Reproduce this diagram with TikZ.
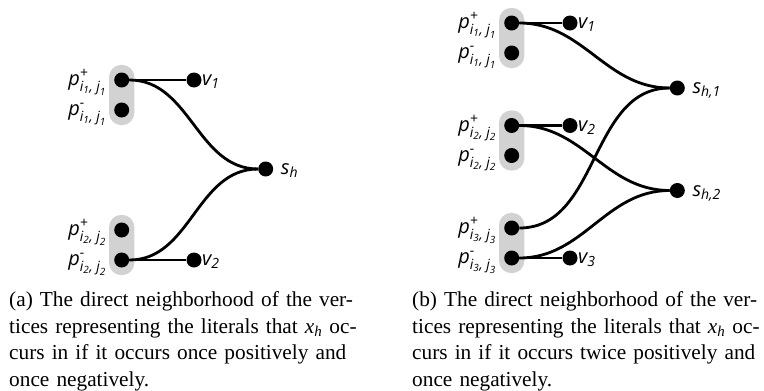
\documentclass[tikz,border=0pt]{standalone}
\usepackage{fontspec}
\usepackage{amsmath}
\setmainfont{Liberation Serif}
\setsansfont{Open Sans}
\usetikzlibrary{fit,backgrounds,calc}
\newcommand\lt[1]{\text{\sffamily\itshape #1}}
\newcommand\plab[3]{$\lt{p}^{\lt{#1}}_{\lt{i}_{\lt{#2}}\lt{, }\lt{j}_{\lt{#3}}}$}
\newcommand\capline[1]{\makebox[345pt][s]{#1}}
\tikzset{
  vert/.style={circle, fill=black, minimum size=15pt, inner sep=0pt},
  conn/.style={line width=2.8pt},
  grp/.style={fill=gray!35, rounded corners=12.5pt, inner xsep=5pt, inner ysep=7.5pt},
  lab/.style={inner sep=0pt, font=\sffamily\itshape\fontsize{20}{24}\selectfont},
  captxt/.style={inner sep=0pt, text width=345pt, align=left, anchor=north west,
    font=\fontsize{21.3}{26.5}\selectfont},
}
\begin{document}
\begin{tikzpicture}[x=1pt,y=-1pt]
\path[use as bounding box] (0,0) rectangle (764,391);
% ---------- (a) ----------
\node[vert] (a11) at (121.7,80) {};
\node[vert] (a12) at (121.7,110) {};
\node[vert] (a21) at (121.7,230) {};
\node[vert] (a22) at (121.7,260) {};
\node[vert] (av1) at (194,80) {};
\node[vert] (av2) at (194,260) {};
\node[vert] (as) at (265.7,169) {};
\begin{scope}[on background layer]
\node[grp, fit=(a11)(a12)] (ag1) {};
\node[grp, fit=(a21)(a22)] (ag2) {};
\end{scope}
\draw[conn] (a11) -- (av1);
\draw[conn] (a11) to[out=0,in=180] (as);
\draw[conn] (a22) to[out=0,in=180] (as);
\draw[conn] (a22) -- (av2);
\node[lab, anchor=base east] (la11) at ([xshift=-15pt,yshift=-5.5pt]a11.center) {\plab{+}{1}{1}};
\node[lab, anchor=base east] (la12) at ([xshift=-15pt,yshift=-5.5pt]a12.center) {\plab{-}{1}{1}};
\node[lab, anchor=base east] (la21) at ([xshift=-15pt,yshift=-5.5pt]a21.center) {\plab{+}{2}{2}};
\node[lab, anchor=base east] (la22) at ([xshift=-15pt,yshift=-5.5pt]a22.center) {\plab{-}{2}{2}};
\node[lab, anchor=base west] (lav1) at ([xshift=8pt,yshift=-5.5pt]av1.center) {$\lt{v}_{\lt{1}}$};
\node[lab, anchor=base west] (lav2) at ([xshift=8pt,yshift=-5.5pt]av2.center) {$\lt{v}_{\lt{2}}$};
\node[lab, anchor=base west] (las) at ([xshift=15pt,yshift=-5.5pt]as.center) {$\lt{s}_{\lt{h}}$};
% ---------- (b) ----------
\node[vert] (b11) at (511.7,23) {};
\node[vert] (b12) at (511.7,53) {};
\node[vert] (b21) at (511.7,125.5) {};
\node[vert] (b22) at (511.7,155.5) {};
\node[vert] (b31) at (511.7,228) {};
\node[vert] (b32) at (511.7,258) {};
\node[vert] (bv1) at (570,23) {};
\node[vert] (bv2) at (570,125.5) {};
\node[vert] (bv3) at (570,258) {};
\node[vert] (bs1) at (677.3,88) {};
\node[vert] (bs2) at (677.3,190.5) {};
\begin{scope}[on background layer]
\node[grp, fit=(b11)(b12)] (bg1) {};
\node[grp, fit=(b21)(b22)] (bg2) {};
\node[grp, fit=(b31)(b32)] (bg3) {};
\end{scope}
\draw[conn] (b11) -- (bv1);
\draw[conn] (b21) -- (bv2);
\draw[conn] (b32) -- (bv3);
\draw[conn] (b11) to[out=0,in=180] (bs1);
\draw[conn] (b31) to[out=0,in=180] (bs1);
\draw[conn] (b21) to[out=0,in=180] (bs2);
\draw[conn] (b32) to[out=0,in=180] (bs2);
\node[lab, anchor=base east] (lb11) at ([xshift=-15pt,yshift=-5.5pt]b11.center) {\plab{+}{1}{1}};
\node[lab, anchor=base east] (lb12) at ([xshift=-15pt,yshift=-5.5pt]b12.center) {\plab{-}{1}{1}};
\node[lab, anchor=base east] (lb21) at ([xshift=-15pt,yshift=-5.5pt]b21.center) {\plab{+}{2}{2}};
\node[lab, anchor=base east] (lb22) at ([xshift=-15pt,yshift=-5.5pt]b22.center) {\plab{-}{2}{2}};
\node[lab, anchor=base east] (lb31) at ([xshift=-15pt,yshift=-5.5pt]b31.center) {\plab{+}{3}{3}};
\node[lab, anchor=base east] (lb32) at ([xshift=-15pt,yshift=-5.5pt]b32.center) {\plab{-}{3}{3}};
\node[lab, anchor=base west] (lbv1) at ([xshift=8pt,yshift=-5.5pt]bv1.center) {$\lt{v}_{\lt{1}}$};
\node[lab, anchor=base west] (lbv2) at ([xshift=8pt,yshift=-5.5pt]bv2.center) {$\lt{v}_{\lt{2}}$};
\node[lab, anchor=base west] (lbv3) at ([xshift=8pt,yshift=-5.5pt]bv3.center) {$\lt{v}_{\lt{3}}$};
\node[lab, anchor=base west] (lbs1) at ([xshift=15pt,yshift=-5.5pt]bs1.center) {$\lt{s}_{\lt{h,1}}$};
\node[lab, anchor=base west] (lbs2) at ([xshift=15pt,yshift=-5.5pt]bs2.center) {$\lt{s}_{\lt{h,2}}$};
% ---------- captions ----------
\node[captxt] (capa) at (9,291.5) {\capline{(a) The direct neighborhood of the ver-}\\
\capline{tices representing the literals that \textit{x}\textsubscript{\textit{h}} oc-}\\
\capline{curs in if it occurs once positively and}\\
once negatively.};
\node[captxt] (capb) at (412,291.5) {\capline{(b) The direct neighborhood of the ver-}\\
\capline{tices representing the literals that \textit{x}\textsubscript{\textit{h}} oc-}\\
\capline{curs in if it occurs twice positively and}\\
once negatively.};
\end{tikzpicture}
\end{document}
